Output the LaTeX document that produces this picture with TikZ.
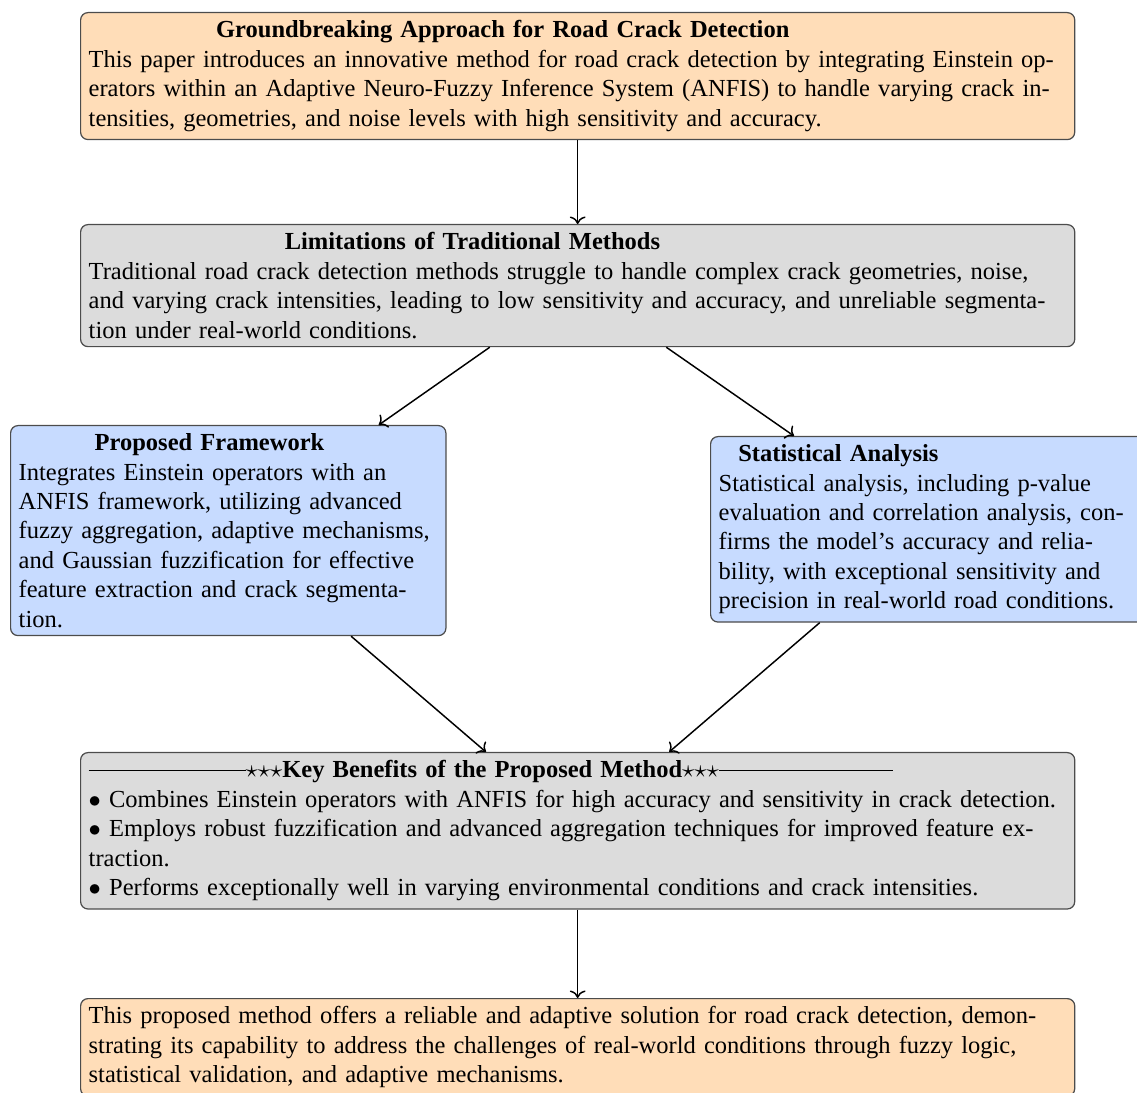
\documentclass[tikz,border=0pt]{standalone}
\usepackage{amsmath}
\usepackage{amssymb}
\usepackage{fontspec}
\setmainfont{Liberation Serif}
\usetikzlibrary{arrows.meta}

\definecolor{peach}{RGB}{255,221,184}
\definecolor{paleblue}{RGB}{199,219,255}
\definecolor{palegray}{RGB}{220,220,220}

\tikzset{
  card/.style={draw=black!70, line width=0.5pt, rounded corners=3pt, align=left,
    anchor=north west, inner sep=3.3pt, font=\fontsize{10}{12}\selectfont},
  widecard/.style={card, text width=399pt},
  halfcard/.style={card, text width=171pt},
  link/.style={-{To[scale=1.05]}, line width=0.6pt}
}

\begin{document}
\begin{tikzpicture}[x=0.408pt, y=-0.408pt]
  \useasboundingbox (0,0) rectangle (1137,1093);
  \clip (0,0) rectangle (1137,1093);

  \node[widecard, fill=peach] (approach) at (80,12)
  {\hspace*{52pt}\textbf{Groundbreaking Approach for Road Crack Detection}\\
    This paper introduces an innovative method for road crack detection by integrating Einstein operators within an Adaptive Neuro-Fuzzy Inference System (ANFIS) to handle varying crack intensities, geometries, and noise levels with high sensitivity and accuracy.};

  \node[widecard, fill=palegray] (limits) at (80,224)
  {\hspace*{80pt}\textbf{Limitations of Traditional Methods}\\
    Traditional road crack detection methods struggle to handle complex crack geometries, noise, and varying crack intensities, leading to low sensitivity and accuracy, and unreliable segmentation under real-world conditions.};

  \node[halfcard, fill=paleblue] (framework) at (10,425)
  {\hspace*{31pt}\textbf{Proposed Framework}\\
    Integrates Einstein operators with an ANFIS framework, utilizing advanced fuzzy aggregation, adaptive mechanisms, and Gaussian fuzzification for effective feature extraction and crack segmentation.};

  \node[halfcard, fill=paleblue] (stats) at (710,436)
  {\hspace*{8pt}\textbf{Statistical Analysis}\\
    Statistical analysis, including p-value evaluation and correlation analysis, confirms the model's accuracy and reliability, with exceptional sensitivity and precision in real-world road conditions.};

  \node[widecard, fill=palegray] (benefits) at (80,752)
  {\rule[0.6ex]{64pt}{0.4pt}${\star}{\star}{\star}$\textbf{Key Benefits of the Proposed Method}${\star}{\star}{\star}$\rule[0.6ex]{71pt}{0.4pt}\\
    $\bullet$ Combines Einstein operators with ANFIS for high accuracy and sensitivity in crack detection.\\
    $\bullet$ Employs robust fuzzification and advanced aggregation techniques for improved feature extraction.\\
    $\bullet$ Performs exceptionally well in varying environmental conditions and crack intensities.};

  \node[widecard, fill=peach] (outcome) at (80,998)
  {This proposed method offers a reliable and adaptive solution for road crack detection, demonstrating its capability to address the challenges of real-world conditions through fuzzy logic, \mbox{statistical} validation, and adaptive mechanisms.};

  % connectors
  \draw[link] (approach) -- (limits);
  \draw[link] (limits) -- (framework);
  \draw[link] (limits) -- (stats);
  \draw[link] (framework) -- (benefits);
  \draw[link] (stats) -- (benefits);
  \draw[link] (benefits) -- (outcome);
\end{tikzpicture}
\end{document}
